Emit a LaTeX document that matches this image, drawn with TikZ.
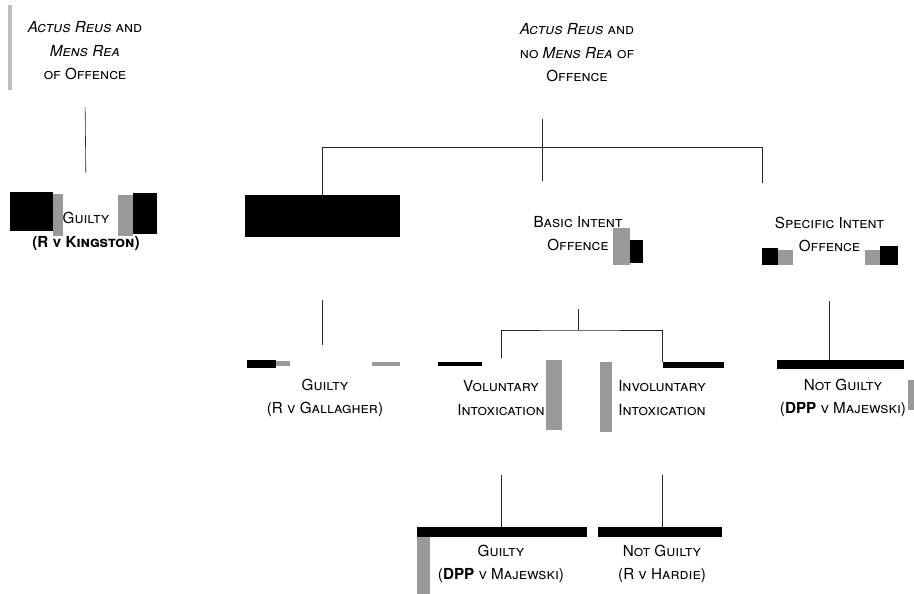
\documentclass[tikz,border=0pt]{standalone}
\usepackage{fontspec}
\setmainfont{TeX Gyre Heros}
\newcommand{\diagfont}{\fontsize{15.2}{23.5}\selectfont\scshape}
\begin{document}
\begin{tikzpicture}[x=1pt,y=-1pt,
    lbl/.style={align=center,font=\diagfont,inner sep=0pt},
    box/.style={lbl,minimum height=#1},
    link/.style={line width=0.6pt,black!85},
    blot/.style={fill=black},
    smudge/.style={fill=black!40}]
    \useasboundingbox (0,0) rectangle (914,594);

    % scan blots round the boxes
    \fill[black!25] (8,5) rectangle (12,90);
    \fill[blot] (10,192) rectangle (53,231);
    \fill[smudge] (53,194) rectangle (63,236);
    \fill[smudge] (118,195) rectangle (133,236);
    \fill[blot] (133,193) rectangle (157,234);
    \fill[smudge] (613,228) rectangle (630,265);
    \fill[blot] (630,240) rectangle (643,263);
    \fill[blot] (762,248) rectangle (778,265);
    \fill[smudge] (778,250) rectangle (793,265);
    \fill[smudge] (865,250) rectangle (880,265);
    \fill[blot] (880,246) rectangle (898,265);
    \fill[blot] (247,360) rectangle (276,368);
    \fill[smudge] (276,361) rectangle (290,366);
    \fill[smudge] (372,362) rectangle (400,366);
    \fill[blot] (438,362) rectangle (482,366);
    \fill[smudge] (546,360) rectangle (562,430);
    \fill[smudge] (600,362) rectangle (612,432);
    \fill[blot] (663,362) rectangle (724,368);
    \fill[blot] (777,360) rectangle (904,369);
    \fill[smudge] (908,380) rectangle (914,410);
    \fill[blot] (417,527) rectangle (587,537);
    \fill[smudge] (417,537) rectangle (430,594);
    \fill[blot] (598,527) rectangle (722,537);

    % the two starting points
    \node[box=80pt] (mensrea) at (85,51) {\textit{Actus Reus} and\\\textit{Mens Rea}\\of Offence};
    \node[box=80pt] (nomensrea) at (577,53) {\textit{Actus Reus} and\\no \textit{Mens Rea} of\\Offence};

    % first row
    \node[box=78pt] (kingston) at (86,231.5) {Guilty\\\textbf{(R v Kingston)}};
    \node[blot,minimum width=155pt,minimum height=42pt,inner sep=0pt] (dark) at (322,216) {};
    \node[box=60pt] (basic) at (578,233.5) {Basic Intent\\Offence};
    \node[box=60pt] (specific) at (829.5,234.5) {Specific Intent\\Offence};

    % second row
    \node[box=72pt] (gallagher) at (325,398) {Guilty\\(R v Gallagher)};
    \node[box=72pt] (voluntary) at (501,398) {Voluntary\\Intoxication};
    \node[box=72pt] (involuntary) at (662,398) {Involuntary\\Intoxication};
    \node[box=72pt] (majewski) at (843,398) {Not Guilty\\(\textbf{DPP} v Majewski)};

    % third row
    \node[box=74pt] (majewskiB) at (501,564) {Guilty\\(\textbf{DPP} v Majewski)};
    \node[box=74pt] (hardie) at (662,564) {Not Guilty\\(R v Hardie)};

    % joins
    \coordinate (top) at (542,147);
    \coordinate (topend) at (542,181);
    \coordinate (specdrop) at (762,183);
    \coordinate (mid) at (578,330);

    \draw[link,shorten <=16pt,shorten >=19.5pt] (mensrea.south) -- (kingston.north);
    \draw[link,shorten <=26pt] (nomensrea.south -| top) -- (topend);
    \draw[link] (dark.north) |- (specdrop |- top) -- (specdrop);
    \draw[link,shorten <=63pt,shorten >=17pt] (dark.south) -- (dark.south |- gallagher.north);
    \draw[link,shorten <=45.5pt] (basic.south) -- (mid);
    \draw[link,shorten <=4pt] (voluntary.north) |- (mid) -| (involuntary.north);
    \draw[link,shorten <=36.5pt,shorten >=2pt] (specific.south) -- (specific.south |- majewski.north);
    \draw[link,shorten <=41pt] (voluntary.south) -- (majewskiB.north);
    \draw[link,shorten <=41pt] (involuntary.south) -- (hardie.north);
\end{tikzpicture}
\end{document}
